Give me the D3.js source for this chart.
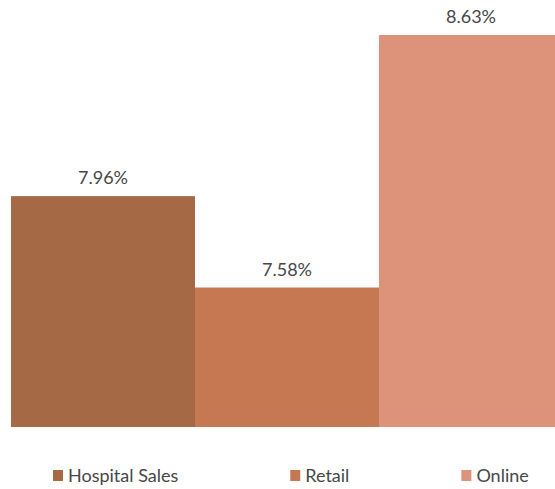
<!DOCTYPE html>
<html>
<head>
<meta charset="utf-8">
<script src="https://cdn.jsdelivr.net/npm/d3@7"></script>
<style>
  html, body { margin: 0; padding: 0; background: #fff; }
  svg { display: block; }
</style>
</head>
<body>
<div id="chart"></div>
<script>
const categories = ['Hospital Sales', 'Retail', 'Online'];
const values = [7.96, 7.58, 8.63];
const colors = ['#A56A45', '#C67852', '#DC937A'];

const width = 555;
const height = 489;
const font = 'Lato, "Noto Sans", sans-serif';
const textColor = '#474747';

// plot area runs past the right edge, like the cropped original
const x = d3.scaleBand()
  .domain(categories)
  .range([11, 563])
  .padding(0);

const y = d3.scaleLinear()
  .domain([7, 8.63])
  .range([427, 35]);

const svg = d3.select('#chart').append('svg')
  .attr('width', width)
  .attr('height', height);

svg.selectAll('rect.bar')
  .data(categories)
  .enter().append('rect')
  .attr('class', 'bar')
  .attr('x', d => x(d))
  .attr('width', x.bandwidth())
  .attr('y', (d, i) => y(values[i]))
  .attr('height', (d, i) => y(7) - y(values[i]))
  .attr('fill', (d, i) => colors[i]);

svg.selectAll('text.label')
  .data(categories)
  .enter().append('text')
  .attr('class', 'label')
  .attr('x', d => x(d) + x.bandwidth() / 2)
  .attr('y', (d, i) => y(values[i]) - 12)
  .attr('text-anchor', 'middle')
  .attr('font-family', font)
  .attr('font-size', 18)
  .attr('fill', textColor)
  .text((d, i) => values[i].toFixed(2) + '%');

// legend, laid out left to right
const legend = svg.append('g').attr('transform', 'translate(53,0)');
let lx = 0;
categories.forEach((c, i) => {
  const g = legend.append('g').attr('transform', 'translate(' + lx + ',0)');
  g.append('rect')
    .attr('x', 0)
    .attr('y', 470)
    .attr('width', 10)
    .attr('height', 11)
    .attr('fill', colors[i]);
  const t = g.append('text')
    .attr('x', 15)
    .attr('y', 482)
    .attr('font-family', font)
    .attr('font-size', 18)
    .attr('fill', textColor)
    .text(c);
  lx += 15 + t.node().getComputedTextLength() + 112;
});
</script>
</body>
</html>
